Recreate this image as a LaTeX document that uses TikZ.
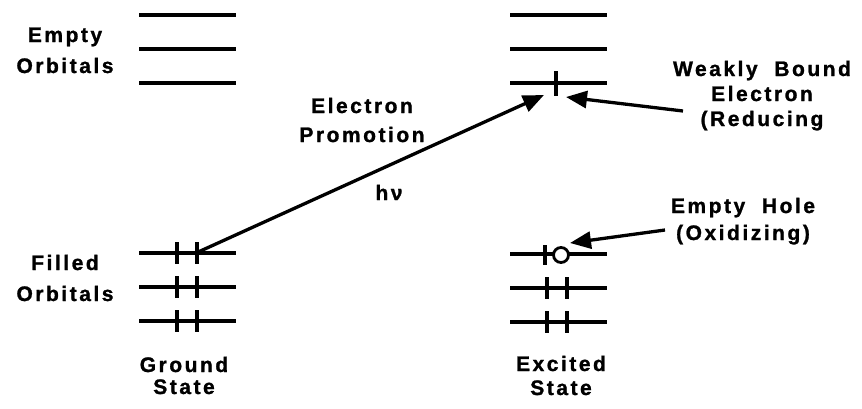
\documentclass[tikz,border=0pt]{standalone}
\usepackage{fontspec}
\setmainfont{Liberation Sans}[LetterSpace=12, BoldFont={Liberation Sans Bold}, BoldFeatures={FakeBold=1.2}]
\usetikzlibrary{arrows.meta}
\begin{document}
\begin{tikzpicture}[x=1pt,y=-1pt,
  lvl/.style={line width=4pt},
  spin/.style={line width=4.2pt},
  lab/.style={font=\bfseries\fontsize{21}{31}\selectfont, align=center, inner sep=0pt, anchor=base},
  arr/.style={line width=3.3pt, -{Triangle[length=21pt,width=17pt]}}]
\useasboundingbox (0,0) rectangle (862,408);
% ground state levels
\foreach \y in {15,49,83} {\draw[lvl] (139,\y) -- (236,\y);}
\foreach \y in {253,287,321} {\draw[lvl] (139,\y) -- (236,\y);
  \draw[spin] (177,\y-11) -- (177,\y+11);
  \draw[spin] (197,\y-11) -- (197,\y+11);}
% excited state levels
\foreach \y in {15,49,83} {\draw[lvl] (510,\y) -- (607,\y);}
\draw[spin] (556,71) -- (556,96);
\foreach \y in {254,288,322} {\draw[lvl] (510,\y) -- (607,\y);}
\draw[spin] (545,245) -- (545,265);
\node[draw, circle, line width=2.8pt, minimum size=15pt, inner sep=0pt, fill=white] (hole) at (561,255) {};
\foreach \y in {288,322} {
  \draw[spin] (547,\y-11) -- (547,\y+11);
  \draw[spin] (567,\y-11) -- (567,\y+11);}
% connectors
\coordinate (g) at (196,253);
\coordinate (e) at (544,95);
\coordinate (wtip) at (566,97);
\coordinate (wtail) at (683,111);
\coordinate (htip) at (570,243);
\coordinate (htail) at (665,230);
\draw[arr] (g) -- (e);
\draw[arr] (wtail) -- (wtip);
\draw[arr] (htail) -- (htip);
% labels (anchored at the baseline of the last line)
\node[lab] (emptyorb) at (65,73) {Empty\\Orbitals};
\node[lab] (filledorb) at (65,301) {Filled\\Orbitals};
\node[lab, font=\bfseries\fontsize{21}{22}\selectfont] (ground) at (184,394) {Ground\\State};
\node[lab, font=\bfseries\fontsize{21}{24}\selectfont] (excited) at (561,395) {Excited\\State};
\node[lab, font=\bfseries\fontsize{21}{29}\selectfont] (promo) at (362,142) {Electron\\Promotion};
\node[lab] (hnu) at (389,200) {hν};
\node[lab, font=\bfseries\fontsize{21}{25}\selectfont] (weak) at (762,126) {Weakly\ \ Bound\\Electron\\(Reducing};
\node[lab, font=\bfseries\fontsize{21}{27}\selectfont] (holelab) at (743,240) {Empty\ \ Hole\\(Oxidizing)};
\end{tikzpicture}
\end{document}
